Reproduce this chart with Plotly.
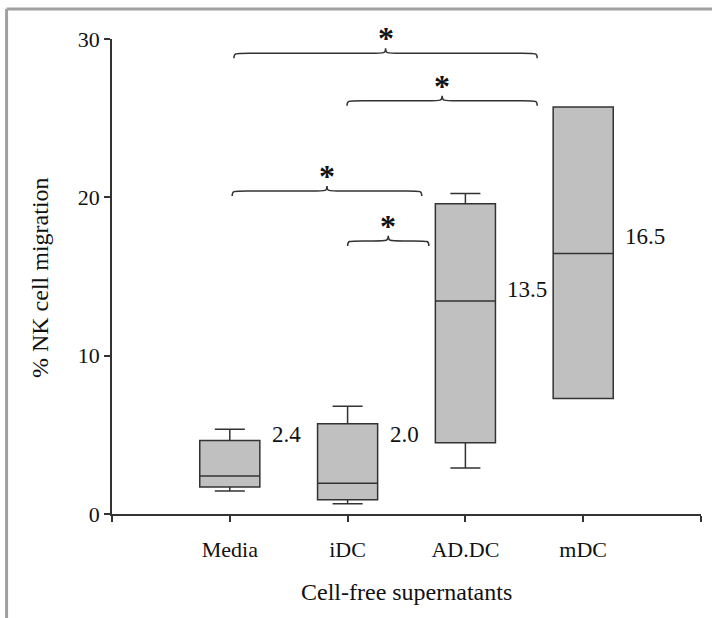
import plotly.graph_objects as go

categories = ["Media", "iDC", "AD.DC", "mDC"]
cat_pos = [1, 2, 3, 4]
q1 = [1.7, 0.9, 4.5, 7.3]
median = [2.4, 1.95, 13.45, 16.45]
q3 = [4.65, 5.7, 19.6, 25.7]
lower_whisker = [1.45, 0.65, 2.9, 7.3]
upper_whisker = [5.35, 6.8, 20.25, 25.7]
median_labels = ["2.4", "2.0", "13.5", "16.5"]
median_label_y = [5.0, 5.0, 14.15, 17.5]

# significance braces (x start, x end, level)
brace_x0 = [1.035, 1.995, 1.02, 2.0]
brace_x1 = [3.61, 3.61, 2.63, 2.69]
brace_y = [29.1, 26.1, 20.4, 17.25]
brace_mark = ["*", "*", "*", "*"]

FONT = "Times New Roman, Liberation Serif, serif"
LINE = "#333333"

fig = go.Figure()
fig.add_trace(go.Box(
    x=cat_pos, q1=q1, median=median, q3=q3,
    lowerfence=lower_whisker, upperfence=upper_whisker,
    width=0.51, whiskerwidth=0.5,
    fillcolor="#c0c0c0", line=dict(color=LINE, width=1.5),
    boxpoints=False, hoverinfo="skip", showlegend=False,
))

shapes = []
annotations = []
d = 0.32   # end drop (y units)
h = 0.32   # cusp rise
r = 0.13   # curl length (x units)
for x0, x1, y, m in zip(brace_x0, brace_x1, brace_y, brace_mark):
    xm = (x0 + x1) / 2
    path = (f"M {x0},{y-d} C {x0},{y} {x0},{y} {x0+r},{y} "
            f"L {xm-r},{y} C {xm},{y} {xm},{y} {xm},{y+h} "
            f"C {xm},{y} {xm},{y} {xm+r},{y} "
            f"L {x1-r},{y} C {x1},{y} {x1},{y} {x1},{y-d}")
    shapes.append(dict(type="path", path=path, xref="x", yref="y",
                       line=dict(color=LINE, width=1.5), layer="above"))
    annotations.append(dict(x=xm, y=y + h, xref="x", yref="y", text="<b>" + m + "</b>",
                            showarrow=False, yanchor="bottom", yshift=-10,
                            font=dict(family=FONT, size=32, color="#111")))

for xp, lab, ly in zip(cat_pos, median_labels, median_label_y):
    annotations.append(dict(x=xp, y=ly, xref="x", yref="y", text=lab,
                            showarrow=False, xanchor="left", xshift=40,
                            font=dict(family=FONT, size=23, color="#111")))

annotations.append(dict(x=-0.122, y=0.497, xref="paper", yref="paper",
                        text="% NK cell migration", textangle=-90,
                        xanchor="center", yanchor="middle",
                        showarrow=False, font=dict(family=FONT, size=24, color="#111")))
annotations.append(dict(x=0.50, y=-0.164, xref="paper", yref="paper",
                        text="Cell-free supernatants",
                        xanchor="center", yanchor="middle",
                        showarrow=False, font=dict(family=FONT, size=24, color="#111")))

# outer gray frame (top and left)
shapes.append(dict(type="line", xref="paper", yref="paper", x0=-0.179, x1=1.1,
                   y0=1.063, y1=1.063, line=dict(color="#a0a0a0", width=3)))
shapes.append(dict(type="line", xref="paper", yref="paper", x0=-0.179, x1=-0.179,
                   y0=1.063, y1=-0.3, line=dict(color="#a0a0a0", width=3)))

fig.update_layout(
    width=712, height=618,
    margin=dict(l=112, r=11, t=39, b=104),
    paper_bgcolor="white", plot_bgcolor="white",
    shapes=shapes, annotations=annotations,
    font=dict(family=FONT, size=22, color="#111"),
    xaxis=dict(range=[0, 5], tickvals=[0, 1, 2, 3, 4, 5],
               ticktext=[""] + categories + [""],
               ticks="outside", ticklen=6, tickwidth=1.5, tickcolor=LINE,
               showline=True, linecolor=LINE, linewidth=1.5,
               showgrid=False, zeroline=False, ticklabelstandoff=9,
               tickfont=dict(family=FONT, size=22, color="#111")),
    yaxis=dict(range=[0, 30], tickvals=[0, 10, 20, 30],
               ticks="outside", ticklen=6, tickwidth=1.5, tickcolor=LINE,
               showline=True, linecolor=LINE, linewidth=1.5,
               showgrid=False, zeroline=False,
               tickfont=dict(family=FONT, size=22, color="#111")),
)

fig.write_html("out.html", config={"displayModeBar": False},
               post_script="document.body.style.margin='0';")
